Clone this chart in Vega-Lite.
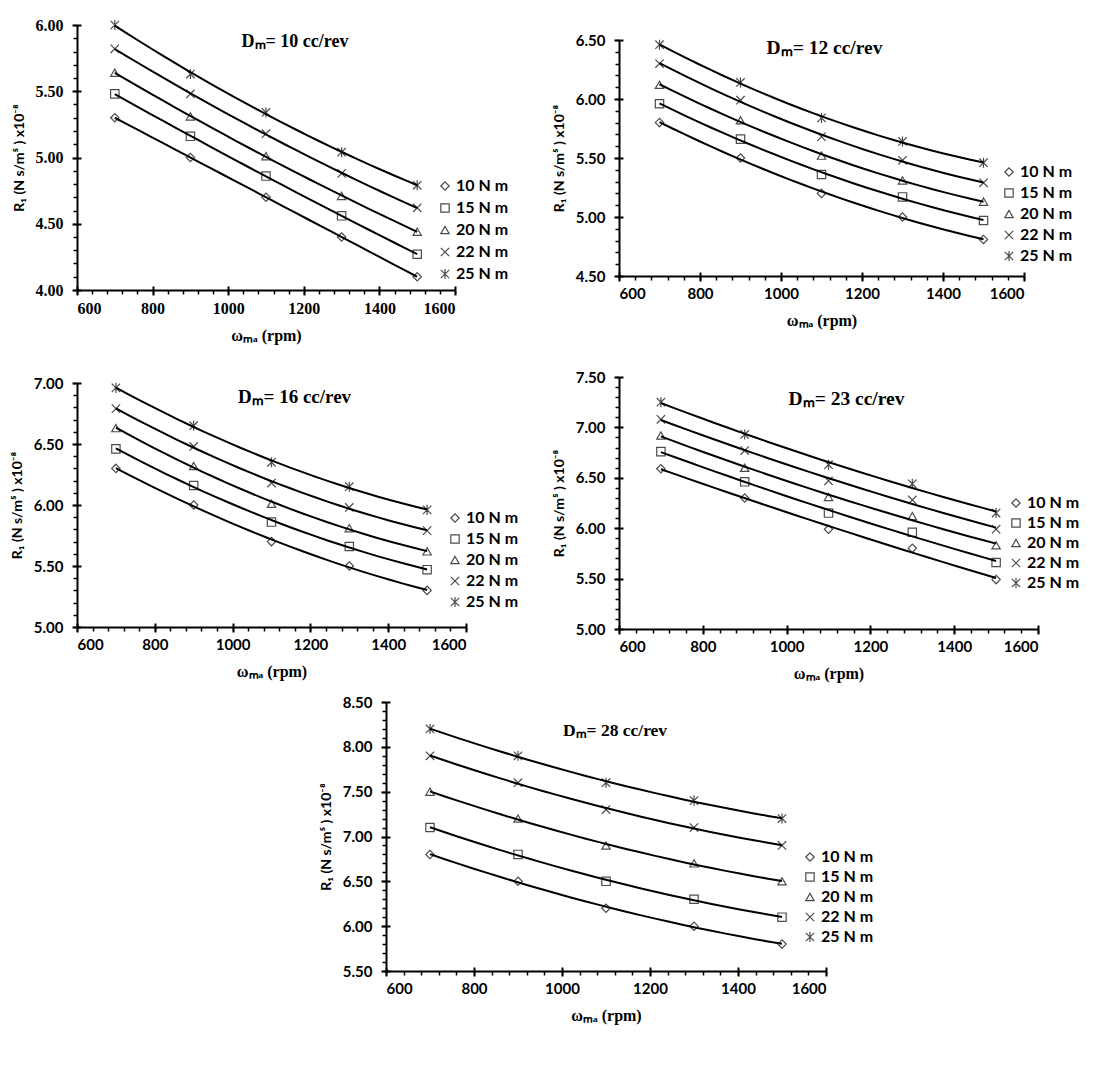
{
 "$schema": "https://vega.github.io/schema/vega-lite/v6.json",
 "background": "white",
 "padding": {"left": 10, "top": 17, "right": 5, "bottom": 5},
 "config": {
  "view": {"stroke": null},
  "axis": {"grid": false, "domainColor": "black", "domainWidth": 2, "tickColor": "black", "tickWidth": 2, "labelColor": "black", "titleColor": "black", "labelFont": "Lato", "labelFontSize": 15, "labelFontWeight": "bold", "titleFontWeight": "bold"},
  "axisX": {"titleFont": "Liberation Serif", "titleFontSize": 16, "tickSize": 5, "labelPadding": 5, "titlePadding": 11},
  "axisY": {"titleFont": "Lato", "titleFontSize": 14, "tickSize": 5, "labelPadding": 9, "titlePadding": 9},
  "legend": {"labelFont": "Lato", "labelFontSize": 16, "labelFontWeight": "bold", "labelColor": "black", "symbolStrokeColor": "black", "symbolStrokeWidth": 1.2, "symbolSize": 70, "rowPadding": 5, "labelOffset": 3},
  "title": {"font": "Liberation Serif", "fontSize": 18, "fontWeight": "bold", "color": "black", "anchor": "middle", "frame": "group", "offset": 0}
 },
 "data": {"name": "pts"},
 "datasets": {
  "pts": [
   {"Dm": 10, "torque": "10 N m", "rpm": 700, "R": 5.30}, {"Dm": 10, "torque": "10 N m", "rpm": 900, "R": 5.00}, {"Dm": 10, "torque": "10 N m", "rpm": 1100, "R": 4.70}, {"Dm": 10, "torque": "10 N m", "rpm": 1300, "R": 4.40}, {"Dm": 10, "torque": "10 N m", "rpm": 1500, "R": 4.10},
   {"Dm": 10, "torque": "15 N m", "rpm": 700, "R": 5.48}, {"Dm": 10, "torque": "15 N m", "rpm": 900, "R": 5.16}, {"Dm": 10, "torque": "15 N m", "rpm": 1100, "R": 4.86}, {"Dm": 10, "torque": "15 N m", "rpm": 1300, "R": 4.56}, {"Dm": 10, "torque": "15 N m", "rpm": 1500, "R": 4.27},
   {"Dm": 10, "torque": "20 N m", "rpm": 700, "R": 5.64}, {"Dm": 10, "torque": "20 N m", "rpm": 900, "R": 5.31}, {"Dm": 10, "torque": "20 N m", "rpm": 1100, "R": 5.01}, {"Dm": 10, "torque": "20 N m", "rpm": 1300, "R": 4.71}, {"Dm": 10, "torque": "20 N m", "rpm": 1500, "R": 4.44},
   {"Dm": 10, "torque": "22 N m", "rpm": 700, "R": 5.82}, {"Dm": 10, "torque": "22 N m", "rpm": 900, "R": 5.48}, {"Dm": 10, "torque": "22 N m", "rpm": 1100, "R": 5.18}, {"Dm": 10, "torque": "22 N m", "rpm": 1300, "R": 4.88}, {"Dm": 10, "torque": "22 N m", "rpm": 1500, "R": 4.62},
   {"Dm": 10, "torque": "25 N m", "rpm": 700, "R": 6.00}, {"Dm": 10, "torque": "25 N m", "rpm": 900, "R": 5.63}, {"Dm": 10, "torque": "25 N m", "rpm": 1100, "R": 5.34}, {"Dm": 10, "torque": "25 N m", "rpm": 1300, "R": 5.04}, {"Dm": 10, "torque": "25 N m", "rpm": 1500, "R": 4.79},

   {"Dm": 12, "torque": "10 N m", "rpm": 700, "R": 5.80}, {"Dm": 12, "torque": "10 N m", "rpm": 900, "R": 5.50}, {"Dm": 12, "torque": "10 N m", "rpm": 1100, "R": 5.20}, {"Dm": 12, "torque": "10 N m", "rpm": 1300, "R": 5.00}, {"Dm": 12, "torque": "10 N m", "rpm": 1500, "R": 4.81},
   {"Dm": 12, "torque": "15 N m", "rpm": 700, "R": 5.96}, {"Dm": 12, "torque": "15 N m", "rpm": 900, "R": 5.66}, {"Dm": 12, "torque": "15 N m", "rpm": 1100, "R": 5.36}, {"Dm": 12, "torque": "15 N m", "rpm": 1300, "R": 5.17}, {"Dm": 12, "torque": "15 N m", "rpm": 1500, "R": 4.97},
   {"Dm": 12, "torque": "20 N m", "rpm": 700, "R": 6.12}, {"Dm": 12, "torque": "20 N m", "rpm": 900, "R": 5.82}, {"Dm": 12, "torque": "20 N m", "rpm": 1100, "R": 5.52}, {"Dm": 12, "torque": "20 N m", "rpm": 1300, "R": 5.31}, {"Dm": 12, "torque": "20 N m", "rpm": 1500, "R": 5.13},
   {"Dm": 12, "torque": "22 N m", "rpm": 700, "R": 6.30}, {"Dm": 12, "torque": "22 N m", "rpm": 900, "R": 5.99}, {"Dm": 12, "torque": "22 N m", "rpm": 1100, "R": 5.68}, {"Dm": 12, "torque": "22 N m", "rpm": 1300, "R": 5.48}, {"Dm": 12, "torque": "22 N m", "rpm": 1500, "R": 5.29},
   {"Dm": 12, "torque": "25 N m", "rpm": 700, "R": 6.46}, {"Dm": 12, "torque": "25 N m", "rpm": 900, "R": 6.14}, {"Dm": 12, "torque": "25 N m", "rpm": 1100, "R": 5.84}, {"Dm": 12, "torque": "25 N m", "rpm": 1300, "R": 5.64}, {"Dm": 12, "torque": "25 N m", "rpm": 1500, "R": 5.46},

   {"Dm": 16, "torque": "10 N m", "rpm": 700, "R": 6.30}, {"Dm": 16, "torque": "10 N m", "rpm": 900, "R": 6.00}, {"Dm": 16, "torque": "10 N m", "rpm": 1100, "R": 5.70}, {"Dm": 16, "torque": "10 N m", "rpm": 1300, "R": 5.50}, {"Dm": 16, "torque": "10 N m", "rpm": 1500, "R": 5.30},
   {"Dm": 16, "torque": "15 N m", "rpm": 700, "R": 6.46}, {"Dm": 16, "torque": "15 N m", "rpm": 900, "R": 6.16}, {"Dm": 16, "torque": "15 N m", "rpm": 1100, "R": 5.86}, {"Dm": 16, "torque": "15 N m", "rpm": 1300, "R": 5.66}, {"Dm": 16, "torque": "15 N m", "rpm": 1500, "R": 5.47},
   {"Dm": 16, "torque": "20 N m", "rpm": 700, "R": 6.63}, {"Dm": 16, "torque": "20 N m", "rpm": 900, "R": 6.32}, {"Dm": 16, "torque": "20 N m", "rpm": 1100, "R": 6.01}, {"Dm": 16, "torque": "20 N m", "rpm": 1300, "R": 5.81}, {"Dm": 16, "torque": "20 N m", "rpm": 1500, "R": 5.62},
   {"Dm": 16, "torque": "22 N m", "rpm": 700, "R": 6.79}, {"Dm": 16, "torque": "22 N m", "rpm": 900, "R": 6.48}, {"Dm": 16, "torque": "22 N m", "rpm": 1100, "R": 6.18}, {"Dm": 16, "torque": "22 N m", "rpm": 1300, "R": 5.98}, {"Dm": 16, "torque": "22 N m", "rpm": 1500, "R": 5.79},
   {"Dm": 16, "torque": "25 N m", "rpm": 700, "R": 6.96}, {"Dm": 16, "torque": "25 N m", "rpm": 900, "R": 6.65}, {"Dm": 16, "torque": "25 N m", "rpm": 1100, "R": 6.35}, {"Dm": 16, "torque": "25 N m", "rpm": 1300, "R": 6.15}, {"Dm": 16, "torque": "25 N m", "rpm": 1500, "R": 5.96},

   {"Dm": 23, "torque": "10 N m", "rpm": 700, "R": 6.59}, {"Dm": 23, "torque": "10 N m", "rpm": 900, "R": 6.30}, {"Dm": 23, "torque": "10 N m", "rpm": 1100, "R": 5.99}, {"Dm": 23, "torque": "10 N m", "rpm": 1300, "R": 5.80}, {"Dm": 23, "torque": "10 N m", "rpm": 1500, "R": 5.49},
   {"Dm": 23, "torque": "15 N m", "rpm": 700, "R": 6.76}, {"Dm": 23, "torque": "15 N m", "rpm": 900, "R": 6.46}, {"Dm": 23, "torque": "15 N m", "rpm": 1100, "R": 6.15}, {"Dm": 23, "torque": "15 N m", "rpm": 1300, "R": 5.96}, {"Dm": 23, "torque": "15 N m", "rpm": 1500, "R": 5.66},
   {"Dm": 23, "torque": "20 N m", "rpm": 700, "R": 6.92}, {"Dm": 23, "torque": "20 N m", "rpm": 900, "R": 6.60}, {"Dm": 23, "torque": "20 N m", "rpm": 1100, "R": 6.31}, {"Dm": 23, "torque": "20 N m", "rpm": 1300, "R": 6.12}, {"Dm": 23, "torque": "20 N m", "rpm": 1500, "R": 5.83},
   {"Dm": 23, "torque": "22 N m", "rpm": 700, "R": 7.08}, {"Dm": 23, "torque": "22 N m", "rpm": 900, "R": 6.77}, {"Dm": 23, "torque": "22 N m", "rpm": 1100, "R": 6.47}, {"Dm": 23, "torque": "22 N m", "rpm": 1300, "R": 6.28}, {"Dm": 23, "torque": "22 N m", "rpm": 1500, "R": 5.99},
   {"Dm": 23, "torque": "25 N m", "rpm": 700, "R": 7.25}, {"Dm": 23, "torque": "25 N m", "rpm": 900, "R": 6.93}, {"Dm": 23, "torque": "25 N m", "rpm": 1100, "R": 6.63}, {"Dm": 23, "torque": "25 N m", "rpm": 1300, "R": 6.44}, {"Dm": 23, "torque": "25 N m", "rpm": 1500, "R": 6.15},

   {"Dm": 28, "torque": "10 N m", "rpm": 700, "R": 6.80}, {"Dm": 28, "torque": "10 N m", "rpm": 900, "R": 6.50}, {"Dm": 28, "torque": "10 N m", "rpm": 1100, "R": 6.20}, {"Dm": 28, "torque": "10 N m", "rpm": 1300, "R": 6.00}, {"Dm": 28, "torque": "10 N m", "rpm": 1500, "R": 5.80},
   {"Dm": 28, "torque": "15 N m", "rpm": 700, "R": 7.10}, {"Dm": 28, "torque": "15 N m", "rpm": 900, "R": 6.80}, {"Dm": 28, "torque": "15 N m", "rpm": 1100, "R": 6.50}, {"Dm": 28, "torque": "15 N m", "rpm": 1300, "R": 6.30}, {"Dm": 28, "torque": "15 N m", "rpm": 1500, "R": 6.10},
   {"Dm": 28, "torque": "20 N m", "rpm": 700, "R": 7.50}, {"Dm": 28, "torque": "20 N m", "rpm": 900, "R": 7.20}, {"Dm": 28, "torque": "20 N m", "rpm": 1100, "R": 6.90}, {"Dm": 28, "torque": "20 N m", "rpm": 1300, "R": 6.70}, {"Dm": 28, "torque": "20 N m", "rpm": 1500, "R": 6.50},
   {"Dm": 28, "torque": "22 N m", "rpm": 700, "R": 7.90}, {"Dm": 28, "torque": "22 N m", "rpm": 900, "R": 7.60}, {"Dm": 28, "torque": "22 N m", "rpm": 1100, "R": 7.30}, {"Dm": 28, "torque": "22 N m", "rpm": 1300, "R": 7.10}, {"Dm": 28, "torque": "22 N m", "rpm": 1500, "R": 6.90},
   {"Dm": 28, "torque": "25 N m", "rpm": 700, "R": 8.20}, {"Dm": 28, "torque": "25 N m", "rpm": 900, "R": 7.90}, {"Dm": 28, "torque": "25 N m", "rpm": 1100, "R": 7.60}, {"Dm": 28, "torque": "25 N m", "rpm": 1300, "R": 7.40}, {"Dm": 28, "torque": "25 N m", "rpm": 1500, "R": 7.20}
  ]
 },
 "resolve": {"scale": {"shape": "independent"}, "legend": {"shape": "independent"}},
 "spacing": 14,
 "vconcat": [
  {
   "resolve": {"scale": {"shape": "independent"}, "legend": {"shape": "independent"}},
   "spacing": 33,
   "hconcat": [
    {
     "resolve": {"scale": {"shape": "independent"}, "legend": {"shape": "independent"}},
     "spacing": 33,
     "vconcat": [
      {
       "width": 378, "height": 265,
       "transform": [{"filter": "datum.Dm == 10"}],
       "title": {"text": "Dₘ= 10 cc/rev", "dx": 29, "dy": 38},
       "resolve": {"axis": {"x": "independent", "y": "independent"}},
       "layer": [
        {
         "transform": [{"regression": "R", "on": "rpm", "groupby": ["torque"], "method": "poly", "order": 2, "extent": [700, 1500]}],
         "mark": {"type": "line", "color": "black", "strokeWidth": 2},
         "encoding": {
          "x": {"field": "rpm", "type": "quantitative", "scale": {"domain": [600, 1600], "nice": false, "zero": false}, "axis": {"orient": "bottom", "values": [600, 800, 1000, 1200, 1400, 1600], "format": "d", "title": "ωₘₐ (rpm)", "labelFont": "Liberation Serif", "labelFontSize": 16}},
          "y": {"field": "R", "type": "quantitative", "scale": {"domain": [4, 6], "nice": false, "zero": false}, "axis": {"orient": "left", "values": [4, 4.5, 5, 5.5, 6], "format": ".2f", "title": "R₁ (N s/m⁵ ) x10⁻⁸", "labelFont": "Liberation Serif", "labelFontSize": 16}},
          "detail": {"field": "torque", "type": "nominal"}
         }
        },
        {
         "mark": {"type": "point", "filled": false, "color": "black", "strokeWidth": 1.2, "size": 70},
         "encoding": {
          "x": {"field": "rpm", "type": "quantitative", "scale": {"domain": [600, 1600], "nice": false, "zero": false}, "axis": {"orient": "bottom", "values": [600,640,680,720,760,800,840,880,920,960,1000,1040,1080,1120,1160,1200,1240,1280,1320,1360,1400,1440,1480,1520,1560,1600], "labels": false, "domain": false, "title": null, "tickSize": 4, "tickWidth": 1.5}},
          "y": {"field": "R", "type": "quantitative", "scale": {"domain": [4, 6], "nice": false, "zero": false}, "axis": {"orient": "left", "values": [4,4.1,4.2,4.3,4.4,4.5,4.6,4.7,4.8,4.9,5,5.1,5.2,5.3,5.4,5.5,5.6,5.7,5.8,5.9,6], "labels": false, "domain": false, "title": null, "tickSize": 4, "tickWidth": 1.5}},
          "shape": {"field": "torque", "type": "nominal", "scale": {"domain": ["10 N m", "15 N m", "20 N m", "22 N m", "25 N m"], "range": ["diamond", "square", "triangle-up", "M-1,-1L1,1M-1,1L1,-1", "M-1,-1L1,1M-1,1L1,-1M0,-1.2L0,1.2"]}, "legend": {"title": null, "orient": "none", "legendX": 360, "legendY": 153, "rowPadding": 6}}
         }
        },
        {
         "mark": {"type": "point", "opacity": 0},
         "encoding": {
          "x": {"field": "rpm", "type": "quantitative", "scale": {"domain": [600, 1600], "nice": false, "zero": false}, "axis": {"orient": "bottom", "values": [600, 800, 1000, 1200, 1400, 1600], "labels": false, "domain": false, "title": null, "tickSize": -4}},
          "y": {"field": "R", "type": "quantitative", "scale": {"domain": [4, 6], "nice": false, "zero": false}, "axis": {"orient": "left", "values": [4, 4.5, 5, 5.5, 6], "labels": false, "domain": false, "title": null, "tickSize": -4}}
         }
        }
       ]
      },
      {
       "width": 389, "height": 244,
       "transform": [{"filter": "datum.Dm == 16"}],
       "title": {"text": "Dₘ= 16 cc/rev", "dx": 23, "dy": 35, "fontSize": 19},
       "resolve": {"axis": {"x": "independent", "y": "independent"}},
       "layer": [
        {
         "transform": [{"regression": "R", "on": "rpm", "groupby": ["torque"], "method": "poly", "order": 2, "extent": [700, 1500]}],
         "mark": {"type": "line", "color": "black", "strokeWidth": 2},
         "encoding": {
          "x": {"field": "rpm", "type": "quantitative", "scale": {"domain": [600, 1600], "nice": false, "zero": false}, "axis": {"orient": "bottom", "values": [600, 800, 1000, 1200, 1400, 1600], "format": "d", "title": "ωₘₐ (rpm)"}},
          "y": {"field": "R", "type": "quantitative", "scale": {"domain": [5, 7], "nice": false, "zero": false}, "axis": {"orient": "left", "values": [5, 5.5, 6, 6.5, 7], "format": ".2f", "title": "R₁ (N s/m⁵ ) x10⁻⁸"}},
          "detail": {"field": "torque", "type": "nominal"}
         }
        },
        {
         "mark": {"type": "point", "filled": false, "color": "black", "strokeWidth": 1.2, "size": 70},
         "encoding": {
          "x": {"field": "rpm", "type": "quantitative", "scale": {"domain": [600, 1600], "nice": false, "zero": false}, "axis": {"orient": "bottom", "values": [600,640,680,720,760,800,840,880,920,960,1000,1040,1080,1120,1160,1200,1240,1280,1320,1360,1400,1440,1480,1520,1560,1600], "labels": false, "domain": false, "title": null, "tickSize": 4, "tickWidth": 1.5}},
          "y": {"field": "R", "type": "quantitative", "scale": {"domain": [5, 7], "nice": false, "zero": false}, "axis": {"orient": "left", "values": [5,5.1,5.2,5.3,5.4,5.5,5.6,5.7,5.8,5.9,6,6.1,6.2,6.3,6.4,6.5,6.6,6.7,6.8,6.9,7], "labels": false, "domain": false, "title": null, "tickSize": 4, "tickWidth": 1.5}},
          "shape": {"field": "torque", "type": "nominal", "scale": {"domain": ["10 N m", "15 N m", "20 N m", "22 N m", "25 N m"], "range": ["diamond", "square", "triangle-up", "M-1,-1L1,1M-1,1L1,-1", "M-1,-1L1,1M-1,1L1,-1M0,-1.2L0,1.2"]}, "legend": {"title": null, "orient": "none", "legendX": 370, "legendY": 127}}
         }
        },
        {
         "mark": {"type": "point", "opacity": 0},
         "encoding": {
          "x": {"field": "rpm", "type": "quantitative", "scale": {"domain": [600, 1600], "nice": false, "zero": false}, "axis": {"orient": "bottom", "values": [600, 800, 1000, 1200, 1400, 1600], "labels": false, "domain": false, "title": null, "tickSize": -4}},
          "y": {"field": "R", "type": "quantitative", "scale": {"domain": [5, 7], "nice": false, "zero": false}, "axis": {"orient": "left", "values": [5, 5.5, 6, 6.5, 7], "labels": false, "domain": false, "title": null, "tickSize": -4}}
         }
        }
       ]
      }
     ]
    },
    {
     "resolve": {"scale": {"shape": "independent"}, "legend": {"shape": "independent"}},
     "spacing": 0,
     "vconcat": [
      {"width": 10, "height": 8, "data": {"values": [{"s": 1}]}, "mark": {"type": "point", "opacity": 0}, "encoding": {}, "view": {"fill": "white", "stroke": null}},
      {
       "resolve": {"scale": {"shape": "independent"}, "legend": {"shape": "independent"}},
       "spacing": 42,
       "vconcat": [
        {
         "width": 405, "height": 236,
         "transform": [{"filter": "datum.Dm == 12"}],
         "title": {"text": "Dₘ= 12 cc/rev", "dx": 3, "dy": 29, "fontSize": 19.5},
         "resolve": {"axis": {"x": "independent", "y": "independent"}},
         "layer": [
          {
           "transform": [{"regression": "R", "on": "rpm", "groupby": ["torque"], "method": "poly", "order": 2, "extent": [700, 1500]}],
           "mark": {"type": "line", "color": "black", "strokeWidth": 2},
           "encoding": {
            "x": {"field": "rpm", "type": "quantitative", "scale": {"domain": [600, 1600], "nice": false, "zero": false}, "axis": {"orient": "bottom", "values": [600, 800, 1000, 1200, 1400, 1600], "format": "d", "title": "ωₘₐ (rpm)"}},
            "y": {"field": "R", "type": "quantitative", "scale": {"domain": [4.5, 6.5], "nice": false, "zero": false}, "axis": {"orient": "left", "values": [4.5, 5, 5.5, 6, 6.5], "format": ".2f", "title": "R₁ (N s/m⁵ ) x10⁻⁸"}},
            "detail": {"field": "torque", "type": "nominal"}
           }
          },
          {
           "mark": {"type": "point", "filled": false, "color": "black", "strokeWidth": 1.2, "size": 70},
           "encoding": {
            "x": {"field": "rpm", "type": "quantitative", "scale": {"domain": [600, 1600], "nice": false, "zero": false}, "axis": {"orient": "bottom", "values": [600,640,680,720,760,800,840,880,920,960,1000,1040,1080,1120,1160,1200,1240,1280,1320,1360,1400,1440,1480,1520,1560,1600], "labels": false, "domain": false, "title": null, "tickSize": 4, "tickWidth": 1.5}},
            "y": {"field": "R", "type": "quantitative", "scale": {"domain": [4.5, 6.5], "nice": false, "zero": false}, "axis": {"orient": "left", "values": [4.5,4.6,4.7,4.8,4.9,5,5.1,5.2,5.3,5.4,5.5,5.6,5.7,5.8,5.9,6,6.1,6.2,6.3,6.4,6.5], "labels": false, "domain": false, "title": null, "tickSize": 4, "tickWidth": 1.5}},
            "shape": {"field": "torque", "type": "nominal", "scale": {"domain": ["10 N m", "15 N m", "20 N m", "22 N m", "25 N m"], "range": ["diamond", "square", "triangle-up", "M-1,-1L1,1M-1,1L1,-1", "M-1,-1L1,1M-1,1L1,-1M0,-1.2L0,1.2"]}, "legend": {"title": null, "orient": "none", "legendX": 382, "legendY": 124}}
           }
          },
          {
           "mark": {"type": "point", "opacity": 0},
           "encoding": {
            "x": {"field": "rpm", "type": "quantitative", "scale": {"domain": [600, 1600], "nice": false, "zero": false}, "axis": {"orient": "bottom", "values": [600, 800, 1000, 1200, 1400, 1600], "labels": false, "domain": false, "title": null, "tickSize": -4}},
            "y": {"field": "R", "type": "quantitative", "scale": {"domain": [4.5, 6.5], "nice": false, "zero": false}, "axis": {"orient": "left", "values": [4.5, 5, 5.5, 6, 6.5], "labels": false, "domain": false, "title": null, "tickSize": -4}}
           }
          }
         ]
        },
        {
         "width": 419, "height": 252,
         "transform": [{"filter": "datum.Dm == 23"}],
         "title": {"text": "Dₘ= 23 cc/rev", "dx": 18, "dy": 43, "fontSize": 19.5},
         "resolve": {"axis": {"x": "independent", "y": "independent"}},
         "layer": [
          {
           "transform": [{"regression": "R", "on": "rpm", "groupby": ["torque"], "method": "poly", "order": 2, "extent": [700, 1500]}],
           "mark": {"type": "line", "color": "black", "strokeWidth": 2},
           "encoding": {
            "x": {"field": "rpm", "type": "quantitative", "scale": {"domain": [600, 1600], "nice": false, "zero": false}, "axis": {"orient": "bottom", "values": [600, 800, 1000, 1200, 1400, 1600], "format": "d", "title": "ωₘₐ (rpm)"}},
            "y": {"field": "R", "type": "quantitative", "scale": {"domain": [5, 7.5], "nice": false, "zero": false}, "axis": {"orient": "left", "values": [5, 5.5, 6, 6.5, 7, 7.5], "format": ".2f", "title": "R₁ (N s/m⁵ ) x10⁻⁸"}},
            "detail": {"field": "torque", "type": "nominal"}
           }
          },
          {
           "mark": {"type": "point", "filled": false, "color": "black", "strokeWidth": 1.2, "size": 70},
           "encoding": {
            "x": {"field": "rpm", "type": "quantitative", "scale": {"domain": [600, 1600], "nice": false, "zero": false}, "axis": {"orient": "bottom", "values": [600,640,680,720,760,800,840,880,920,960,1000,1040,1080,1120,1160,1200,1240,1280,1320,1360,1400,1440,1480,1520,1560,1600], "labels": false, "domain": false, "title": null, "tickSize": 4, "tickWidth": 1.5}},
            "y": {"field": "R", "type": "quantitative", "scale": {"domain": [5, 7.5], "nice": false, "zero": false}, "axis": {"orient": "left", "values": [5,5.1,5.2,5.3,5.4,5.5,5.6,5.7,5.8,5.9,6,6.1,6.2,6.3,6.4,6.5,6.6,6.7,6.8,6.9,7,7.1,7.2,7.3,7.4,7.5], "labels": false, "domain": false, "title": null, "tickSize": 4, "tickWidth": 1.5}},
            "shape": {"field": "torque", "type": "nominal", "scale": {"domain": ["10 N m", "15 N m", "20 N m", "22 N m", "25 N m"], "range": ["diamond", "square", "triangle-up", "M-1,-1L1,1M-1,1L1,-1", "M-1,-1L1,1M-1,1L1,-1M0,-1.2L0,1.2"]}, "legend": {"title": null, "orient": "none", "legendX": 389, "legendY": 118, "rowPadding": 4}}
           }
          },
          {
           "mark": {"type": "point", "opacity": 0},
           "encoding": {
            "x": {"field": "rpm", "type": "quantitative", "scale": {"domain": [600, 1600], "nice": false, "zero": false}, "axis": {"orient": "bottom", "values": [600, 800, 1000, 1200, 1400, 1600], "labels": false, "domain": false, "title": null, "tickSize": -4}},
            "y": {"field": "R", "type": "quantitative", "scale": {"domain": [5, 7.5], "nice": false, "zero": false}, "axis": {"orient": "left", "values": [5, 5.5, 6, 6.5, 7, 7.5], "labels": false, "domain": false, "title": null, "tickSize": -4}}
           }
          }
         ]
        }
       ]
      }
     ]
    }
   ]
  },
  {
   "resolve": {"scale": {"shape": "independent"}, "legend": {"shape": "independent"}},
   "spacing": 0,
   "hconcat": [
    {"width": 242, "height": 1, "data": {"values": [{"s": 1}]}, "mark": {"type": "point", "opacity": 0}, "encoding": {}, "view": {"fill": "white", "stroke": null}},
    {
     "width": 440, "height": 269,
     "transform": [{"filter": "datum.Dm == 28"}],
     "title": {"text": "Dₘ= 28 cc/rev", "dx": 9, "dy": 48, "fontSize": 17.5},
     "resolve": {"axis": {"x": "independent", "y": "independent"}},
     "layer": [
      {
       "transform": [{"regression": "R", "on": "rpm", "groupby": ["torque"], "method": "poly", "order": 2, "extent": [700, 1500]}],
       "mark": {"type": "line", "color": "black", "strokeWidth": 2},
       "encoding": {
        "x": {"field": "rpm", "type": "quantitative", "scale": {"domain": [600, 1600], "nice": false, "zero": false}, "axis": {"orient": "bottom", "values": [600, 800, 1000, 1200, 1400, 1600], "format": "d", "title": "ωₘₐ (rpm)"}},
        "y": {"field": "R", "type": "quantitative", "scale": {"domain": [5.5, 8.5], "nice": false, "zero": false}, "axis": {"orient": "left", "values": [5.5, 6, 6.5, 7, 7.5, 8, 8.5], "format": ".2f", "title": "R₁ (N s/m⁵ ) x10⁻⁸"}},
        "detail": {"field": "torque", "type": "nominal"}
       }
      },
      {
       "mark": {"type": "point", "filled": false, "color": "black", "strokeWidth": 1.2, "size": 70},
       "encoding": {
        "x": {"field": "rpm", "type": "quantitative", "scale": {"domain": [600, 1600], "nice": false, "zero": false}, "axis": {"orient": "bottom", "values": [600,640,680,720,760,800,840,880,920,960,1000,1040,1080,1120,1160,1200,1240,1280,1320,1360,1400,1440,1480,1520,1560,1600], "labels": false, "domain": false, "title": null, "tickSize": 4, "tickWidth": 1.5}},
        "y": {"field": "R", "type": "quantitative", "scale": {"domain": [5.5, 8.5], "nice": false, "zero": false}, "axis": {"orient": "left", "values": [5.5,5.6,5.7,5.8,5.9,6,6.1,6.2,6.3,6.4,6.5,6.6,6.7,6.8,6.9,7,7.1,7.2,7.3,7.4,7.5,7.6,7.7,7.8,7.9,8,8.1,8.2,8.3,8.4,8.5], "labels": false, "domain": false, "title": null, "tickSize": 4, "tickWidth": 1.5}},
        "shape": {"field": "torque", "type": "nominal", "scale": {"domain": ["10 N m", "15 N m", "20 N m", "22 N m", "25 N m"], "range": ["diamond", "square", "triangle-up", "M-1,-1L1,1M-1,1L1,-1", "M-1,-1L1,1M-1,1L1,-1M0,-1.2L0,1.2"]}, "legend": {"title": null, "orient": "none", "legendX": 416, "legendY": 147, "rowPadding": 4}}
       }
      },
      {
       "mark": {"type": "point", "opacity": 0},
       "encoding": {
        "x": {"field": "rpm", "type": "quantitative", "scale": {"domain": [600, 1600], "nice": false, "zero": false}, "axis": {"orient": "bottom", "values": [600, 800, 1000, 1200, 1400, 1600], "labels": false, "domain": false, "title": null, "tickSize": -4}},
        "y": {"field": "R", "type": "quantitative", "scale": {"domain": [5.5, 8.5], "nice": false, "zero": false}, "axis": {"orient": "left", "values": [5.5, 6, 6.5, 7, 7.5, 8, 8.5], "labels": false, "domain": false, "title": null, "tickSize": -4}}
       }
      }
     ]
    }
   ]
  }
 ]
}
